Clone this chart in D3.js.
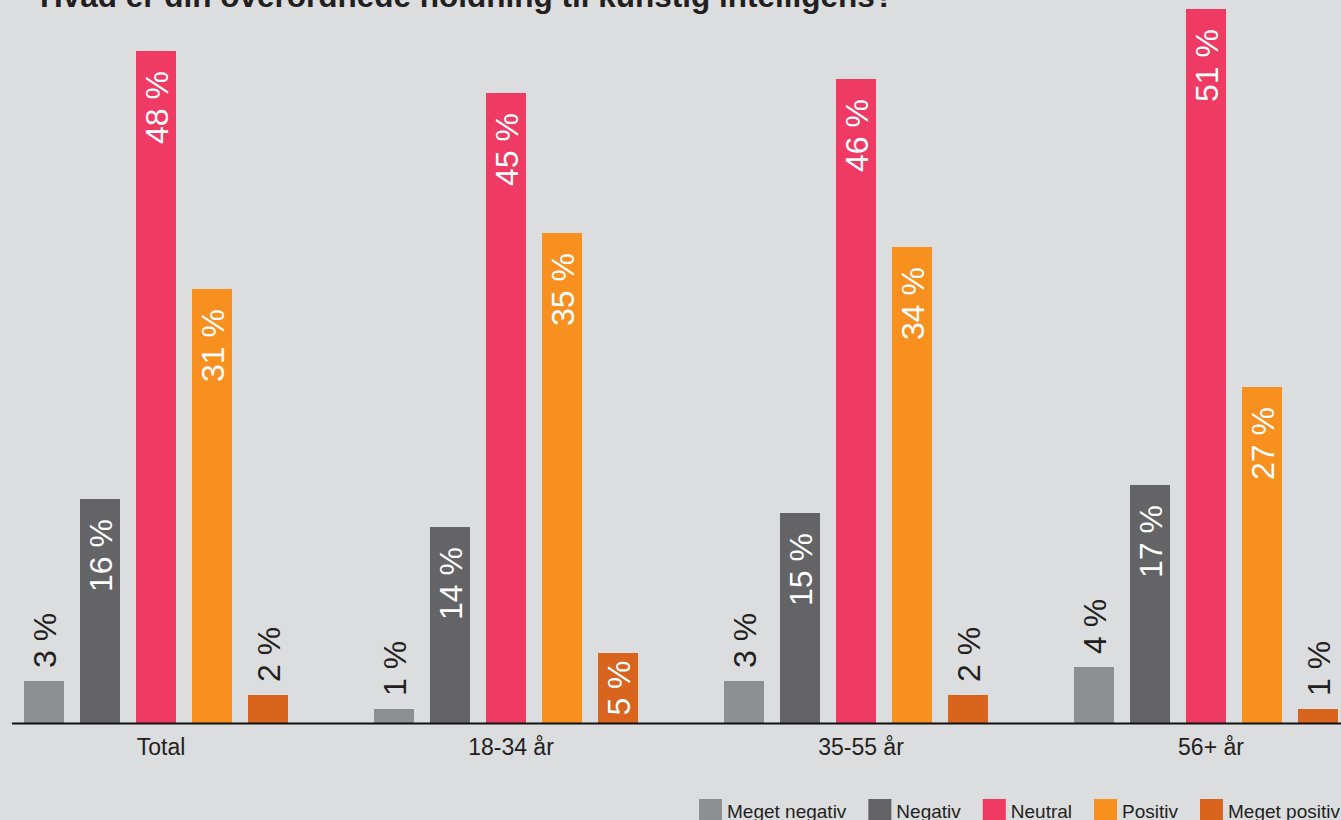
<!DOCTYPE html>
<html>
<head>
<meta charset="utf-8">
<script src="https://cdn.jsdelivr.net/npm/d3@7"></script>
<style>
  html, body { margin: 0; padding: 0; background: #dcdddf; overflow: hidden; }
  svg { display: block; font-family: "Liberation Sans", Arial, Helvetica, sans-serif; }
</style>
</head>
<body>
<div id="chart"></div>
<script>
// Grouped bar chart: attitude to artificial intelligence by age group.

const groups = ["Total", "18-34 år", "35-55 år", "56+ år"];
const series = ["Meget negativ", "Negativ", "Neutral", "Positiv", "Meget positiv"];
const colors = ["#8e8f92", "#646467", "#ef3a63", "#f7901f", "#d8641d"];

// bar heights per group, in series order (as drawn in the original)
const total   = [3, 16, 48, 31, 2];
const age1834 = [1, 14, 45, 35, 5];
const age3555 = [3, 15, 46, 34, 2];
const age56   = [4, 17, 51, 24, 1];
const values = [total, age1834, age3555, age56];

// printed labels (56+ "Positiv" is labelled 27 % although its bar is shorter)
const labelsTotal = ["3 %", "16 %", "48 %", "31 %", "2 %"];
const labels1834  = ["1 %", "14 %", "45 %", "35 %", "5 %"];
const labels3555  = ["3 %", "15 %", "46 %", "34 %", "2 %"];
const labels56    = ["4 %", "17 %", "51 %", "27 %", "1 %"];
const labels = [labelsTotal, labels1834, labels3555, labels56];

const W = 1341, H = 820;
const baseY = 723;

const svg = d3.select("#chart").append("svg")
    .attr("width", W)
    .attr("height", H);

svg.append("rect").attr("width", W).attr("height", H).attr("fill", "#dcdddf");

const x0 = d3.scaleBand().domain(groups).range([24, 24 + 350 * groups.length]);
const x1 = d3.scaleBand().domain(series).range([0, 264]).paddingInner(2 / 7).paddingOuter(0);
const y = d3.scaleLinear().domain([0, 50]).range([baseY, baseY - 700]);

const fontSize = 32;

const rows = [];
groups.forEach((g, gi) => {
    series.forEach((s, si) => {
        rows.push({group: g, series: s, value: values[gi][si], label: labels[gi][si], color: colors[si]});
    });
});

const bar = svg.selectAll(".bar")
    .data(rows)
    .enter()
    .append("g")
    .attr("class", "bar");

bar.append("rect")
    .attr("x", d => x0(d.group) + x1(d.series))
    .attr("y", d => y(d.value))
    .attr("width", x1.bandwidth())
    .attr("height", d => y(0) - y(d.value))
    .attr("fill", d => d.color);

bar.each(function(d) {
    const g = d3.select(this);
    const cx = x0(d.group) + x1(d.series) + x1.bandwidth() / 2;
    const top = y(d.value);
    const h = y(0) - top;
    const label = g.append("text")
        .attr("font-size", fontSize)
        .attr("dy", "0.36em")
        .text(d.label);
    const len = label.node().getComputedTextLength();
    if (d.value >= 5) {
        const gap = Math.min(20, (h - len) / 2);
        label.attr("fill", "#ffffff")
            .attr("text-anchor", "end")
            .attr("transform", `translate(${cx},${top + gap}) rotate(-90)`);
    } else {
        label.attr("fill", "#231f20")
            .attr("text-anchor", "start")
            .attr("transform", `translate(${cx},${top - 13}) rotate(-90)`);
    }
});

// Baseline
svg.append("line")
    .attr("x1", 12).attr("x2", W)
    .attr("y1", baseY + 0.5).attr("y2", baseY + 0.5)
    .attr("stroke", "#111")
    .attr("stroke-width", 2);

// Group labels
svg.selectAll(".group-label")
    .data(groups)
    .enter()
    .append("text")
    .attr("class", "group-label")
    .attr("x", d => x0(d) + 137)
    .attr("y", 755)
    .attr("text-anchor", "middle")
    .attr("font-size", 23)
    .attr("fill", "#231f20")
    .text(d => d);

// Title (cut off at the top, as in the original)
svg.append("text")
    .attr("x", 40)
    .attr("y", 6.5)
    .attr("font-size", 31.5)
    .attr("font-weight", "bold")
    .attr("fill", "#231f20")
    .text("Hvad er din overordnede holdning til kunstig intelligens?");

// Legend (runs off the right and bottom edges, as in the original)
const legend = svg.append("g").attr("transform", "translate(699,799)");
let lx = 0;
series.forEach((s, i) => {
    const item = legend.append("g").attr("transform", `translate(${lx},0)`);
    item.append("rect").attr("width", 23).attr("height", 23).attr("fill", colors[i]);
    const t = item.append("text")
        .attr("x", 28)
        .attr("y", 19)
        .attr("font-size", 19)
        .attr("fill", "#231f20")
        .text(s);
    lx += 28 + t.node().getComputedTextLength() + 22;
});
</script>
</body>
</html>
